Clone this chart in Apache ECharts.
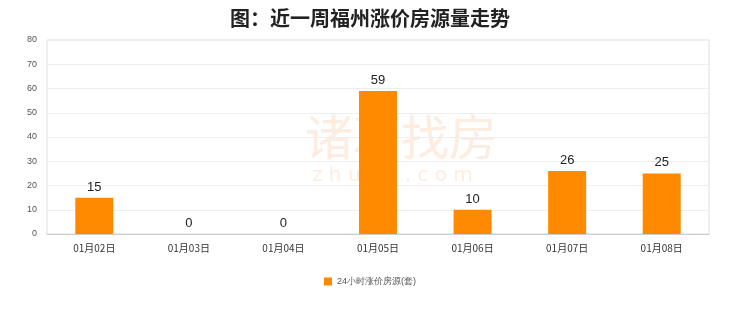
<!DOCTYPE html>
<html><head><meta charset="utf-8">
<script src="https://cdn.jsdelivr.net/npm/echarts@6/dist/echarts.min.js"></script>
<style>html,body{margin:0;padding:0;background:#fff}#c{width:740px;height:312px}</style>
</head><body><div id="c"></div>
<script>
var categories = ['01月02日','01月03日','01月04日','01月05日','01月06日','01月07日','01月08日'];
var values = [15, 0, 0, 59, 10, 26, 25];
var seriesName = '24小时涨价房源(套)';
var titleText = '图：近一周福州涨价房源量走势';

var chart = echarts.init(document.getElementById('c'), null, {renderer:'canvas'});
chart.setOption({
  backgroundColor:'#fff',
  animation:false,
  title:{text:titleText,left:'center',top:3,textStyle:{fontSize:20,fontWeight:'bold',color:'#222',fontFamily:'Noto Sans CJK SC'}},
  graphic:[
    {type:'text',left:305,top:113,z:-1,style:{text:'诸葛找房',fill:'rgba(248,200,165,0.35)',font:'48px "Noto Sans CJK SC"'}},
    {type:'text',left:312,top:166,z:-1,style:{text:'z h u g e . c o m',fill:'rgba(248,200,165,0.35)',font:'20px "DejaVu Sans"'}}
  ],
  grid:{left:47,right:31,top:40,bottom:78,show:true,borderColor:'#ddd',borderWidth:1},
  legend:{bottom:21,left:'center',itemWidth:8,itemHeight:8,icon:'rect',textStyle:{fontSize:9,color:'#555'},data:[seriesName]},
  xAxis:{type:'category',data:categories,axisLine:{lineStyle:{color:'#ccc'}},axisTick:{show:false},
    axisLabel:{fontSize:10,color:'#333',margin:9,fontFamily:'Noto Sans CJK SC'}},
  yAxis:{type:'value',min:0,max:80,interval:10,axisLine:{show:false},axisTick:{show:false},
    axisLabel:{fontSize:9,color:'#555',margin:10},splitLine:{lineStyle:{color:'#eee'}}},
  series:[{name:seriesName,type:'bar',data:values,barWidth:38,itemStyle:{color:'#ff8a00'},
    label:{show:true,position:'top',fontSize:13,color:'#222',distance:4}}]
});
</script></body></html>
